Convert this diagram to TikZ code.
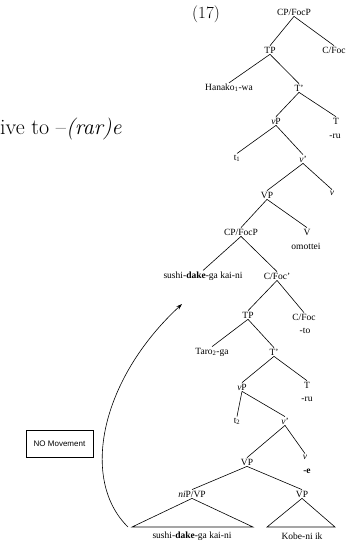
\documentclass[tikz,border=0pt]{standalone}
\usepackage{fontspec}
\setmainfont{Liberation Serif}
\newfontfamily\sansf{Liberation Sans}
\newfontfamily\lmr[Ligatures=TeX]{Latin Modern Roman}
\usetikzlibrary{arrows.meta}
\begin{document}
\begin{tikzpicture}[x=1pt,y=-1pt,
  lab/.style={font=\fontsize{9.5}{11}\selectfont, inner sep=1pt},
  edge/.style={line width=0.6pt},
  tri/.style={line width=0.6pt}]
\useasboundingbox (0,0) rectangle (352,542);
% side texts
\node[anchor=west, inner sep=0pt, font=\lmr\fontsize{22}{26}\selectfont] (side) at (0,129) {ive to –\textit{(rar)e}};
\node[font=\lmr\fontsize{17}{20}\selectfont, inner sep=0pt] (num) at (206,14) {(17)};
\node[draw, line width=0.6pt, minimum width=67pt, minimum height=27pt, inner sep=0pt, font=\sansf\fontsize{8}{9.5}\selectfont] (nomove) at (59.5,444) {NO Movement};
% tree
\node[lab] (cp1) at (294,12) {CP/FocP};
\node[lab] (tp1) at (270,50) {TP};
\node[lab] (cf1) at (334,50) {C/Foc};
\node[lab] (han) at (229,88) {Hanako\textsubscript{1}-wa};
\node[lab] (tb1) at (299,88) {T’};
\node[lab] (vp1) at (276,121) {\textit{v}P};
\node[lab] (tn1) at (336,121) {T};
\node[lab] (ru1) at (335,136) {-ru};
\node[lab] (tr1) at (237,158) {t\textsubscript{1}};
\node[lab] (vb1) at (303,159) {\textit{v}’};
\node[lab] (vv1) at (332,193) {\textit{v}};
\node[lab] (VP1) at (267,195) {VP};
\node[lab] (cp2) at (241,232) {CP/FocP};
\node[lab] (VV1) at (307,232) {V};
\node[lab] (om) at (306,246) {omottei};
\node[lab] (sd1) at (203,276) {sushi-\textbf{dake}-ga kai-ni};
\node[lab] (cfb) at (277,276) {C/Foc’};
\node[lab] (tp2) at (248,315) {TP};
\node[lab] (cf2) at (304,317) {C/Foc};
\node[lab] (to) at (305,331) {-to};
\node[lab] (taro) at (212,352) {Taro\textsubscript{2}-ga};
\node[lab] (tb2) at (274,352) {T’};
\node[lab] (vp2) at (242,387) {\textit{v}P};
\node[lab] (tn2) at (307,385) {T};
\node[lab] (ru2) at (307,399) {-ru};
\node[lab] (tr2) at (237,421) {t\textsubscript{2}};
\node[lab] (vb2) at (285,421) {\textit{v}’};
\node[lab] (vv2) at (305,457) {\textit{v}};
\node[lab] (ee) at (307,471) {\textbf{-e}};
\node[lab] (VP2) at (247,462) {VP};
\node[lab] (nip) at (192,494) {\textit{ni}P/VP};
\node[lab] (VP3) at (302,494) {VP};
\node[lab] (sd2) at (192,536.5) {sushi-\textbf{dake}-ga kai-ni};
\node[lab] (kobe) at (302,536.5) {Kobe-ni ik};
% edges
\foreach \p/\c in {cp1/tp1, cp1/cf1, tp1/han, tp1/tb1, tb1/vp1, tb1/tn1,
  vp1/tr1, vp1/vb1, vb1/VP1, vb1/vv1, VP1/cp2, VP1/VV1, cp2/sd1, cp2/cfb,
  cfb/tp2, cfb/cf2, tp2/taro, tp2/tb2, tb2/vp2, tb2/tn2, vp2/tr2, vp2/vb2,
  vb2/VP2, vb2/vv2, VP2/nip, VP2/VP3}
  \draw[edge] (\p.south) -- (\c.north);
% triangles
\draw[tri] (nip.south) -- (132,527) -- (253,527) -- cycle;
\draw[tri] (VP3.south) -- (267,527) -- (335,527) -- cycle;
% movement arrow
\coordinate (as) at (128,527);
\coordinate (ae) at (182,304);
\draw[line width=0.6pt, -{Stealth[length=6pt,width=4pt]}] (as) .. controls (80,480) and (100,380) .. (ae);
\end{tikzpicture}
\end{document}
